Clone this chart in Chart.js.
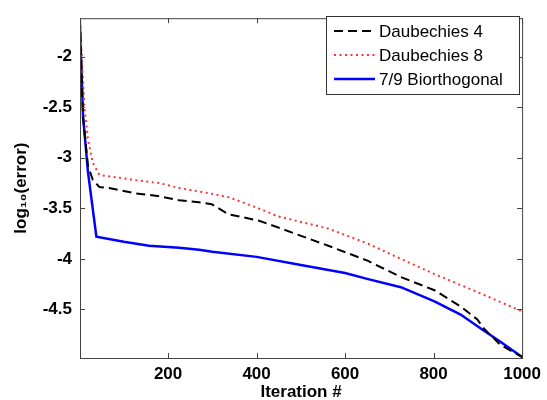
<!DOCTYPE html>
<html>
<head>
<meta charset="utf-8">
<script src="https://cdn.jsdelivr.net/npm/chart.js@4"></script>
<style>
  html, body { margin: 0; padding: 0; background: #fff; }
  #wrap { width: 547px; height: 400px; }
</style>
</head>
<body>
<div id="wrap"><canvas id="chart-error"></canvas></div>
<script>
const seriesLabels = ['Daubechies 4', 'Daubechies 8', '7/9 Biorthogonal']

const iterD4 = [1, 4, 8, 19, 30, 45, 67, 124, 180, 225, 270, 299, 337, 404, 449, 562, 652, 726, 802, 861, 899, 914, 951, 1000]
const errD4 = [-1.62, -2.09, -2.6, -3.08, -3.22, -3.29, -3.30, -3.35, -3.38, -3.42, -3.44, -3.46, -3.56, -3.62, -3.69, -3.87, -4.02, -4.18, -4.31, -4.47, -4.60, -4.69, -4.85, -4.97]

const iterD8 = [1, 2, 11, 19, 30, 45, 124, 180, 225, 292, 337, 404, 449, 562, 652, 726, 802, 900, 1000]
const errD8 = [-1.65, -1.75, -2.5, -2.82, -3.05, -3.17, -3.22, -3.25, -3.30, -3.35, -3.39, -3.50, -3.58, -3.70, -3.85, -4.00, -4.15, -4.33, -4.52]

const iterBior = [1, 4, 8, 19, 38, 100, 157, 225, 270, 300, 400, 500, 600, 652, 726, 802, 861, 914, 951, 1000]
const errBior = [-1.70, -2.09, -2.60, -3.14, -3.78, -3.83, -3.87, -3.89, -3.91, -3.93, -3.98, -4.06, -4.14, -4.20, -4.28, -4.42, -4.55, -4.71, -4.82, -4.97]

const xTicks = [200, 400, 600, 800, 1000]
const yTicks = [-4.5, -4, -3.5, -3, -2.5, -2]

const toPoints = (xs, ys) => xs.map((x, i) => ({ x: x, y: ys[i] }))

const axisColor = '#444'
const fontFamily = '"Liberation Sans", Arial, sans-serif'

// matlab style box with inward ticks on all four sides
const boxPlugin = {
  id: 'box',
  afterDraw(chart) {
    const { ctx, chartArea: a, scales } = chart
    const len = 5
    ctx.save()
    ctx.strokeStyle = axisColor
    ctx.lineWidth = 1
    ctx.strokeRect(a.left + 0.5, a.top + 0.5, a.right - a.left, a.bottom - a.top)
    ctx.beginPath()
    xTicks.forEach(v => {
      const px = Math.round(scales.x.getPixelForValue(v)) + 0.5
      ctx.moveTo(px, a.bottom); ctx.lineTo(px, a.bottom - len)
      ctx.moveTo(px, a.top); ctx.lineTo(px, a.top + len)
    })
    yTicks.forEach(v => {
      const py = Math.round(scales.y.getPixelForValue(v)) + 0.5
      ctx.moveTo(a.left, py); ctx.lineTo(a.left + len, py)
      ctx.moveTo(a.right, py); ctx.lineTo(a.right - len, py)
    })
    ctx.stroke()

    // legend inside the axes, top right
    const lx = 326, ly = 16, lw = 193, lh = 78
    ctx.fillStyle = '#fff'
    ctx.fillRect(lx, ly, lw, lh)
    ctx.strokeStyle = '#333'
    ctx.strokeRect(lx + 0.5, ly + 0.5, lw, lh)
    ctx.font = '17px ' + fontFamily
    ctx.textBaseline = 'middle'
    chart.data.datasets.forEach((ds, i) => {
      const y = ly + 15 + i * 24
      ctx.beginPath()
      ctx.strokeStyle = ds.borderColor
      ctx.lineWidth = ds.borderWidth
      ctx.setLineDash(ds.borderDash || [])
      ctx.moveTo(lx + 8, y); ctx.lineTo(lx + 49, y)
      ctx.stroke()
      ctx.setLineDash([])
      ctx.fillStyle = '#000'
      ctx.fillText(ds.label, lx + 53, y + 1)
    })
    ctx.restore()
  }
}

const ctx = document.getElementById('chart-error').getContext('2d')

const data = {
  datasets: [
    {
      label: seriesLabels[0],
      data: toPoints(iterD4, errD4),
      borderColor: '#000',
      borderWidth: 2,
      borderDash: [9, 5],
      order: 1,
    },
    {
      label: seriesLabels[1],
      data: toPoints(iterD8, errD8),
      borderColor: '#ff3333',
      borderWidth: 2,
      borderDash: [2, 3.5],
      order: 2,
    },
    {
      label: seriesLabels[2],
      data: toPoints(iterBior, errBior),
      borderColor: '#0000ff',
      borderWidth: 2.5,
      order: 3,
    },
  ],
}

const tickFont = { family: fontFamily, size: 17, weight: 'bold' }

const config = {
  type: 'line',
  data: data,
  options: {
    responsive: true,
    maintainAspectRatio: false,
    animation: false,
    elements: { point: { radius: 0 }, line: { tension: 0 } },
    layout: { padding: { left: 11, right: 22, top: 8, bottom: 0 } },
    plugins: {
      legend: { display: false },
      tooltip: { enabled: false },
    },
    scales: {
      x: {
        type: 'linear',
        min: 1,
        max: 1000,
        grid: { display: false, tickLength: 0 },
        border: { display: false },
        afterBuildTicks: s => { s.ticks = xTicks.map(v => ({ value: v })) },
        afterFit: s => { s.height = 42 },
        ticks: {
          padding: 6,
          color: '#000',
          font: tickFont,
          maxRotation: 0,
          callback: v => String(v),
        },
        title: {
          display: true,
          text: 'Iteration #',
          color: '#000',
          font: tickFont,
          padding: { top: 0, bottom: -3 },
        },
      },
      y: {
        min: -4.98,
        max: -1.62,
        grid: { display: false, tickLength: 0 },
        border: { display: false },
        afterBuildTicks: s => { s.ticks = yTicks.map(v => ({ value: v })) },
        afterFit: s => { s.width = 69 },
        ticks: {
          padding: 8,
          color: '#000',
          font: tickFont,
          callback: v => String(v),
        },
        title: {
          display: true,
          text: 'log₁₀(error)',
          color: '#000',
          font: tickFont,
          padding: 0,
        },
      },
    },
  },
  plugins: [boxPlugin],
}

const myChart = new Chart(ctx, config)
</script>
</body>
</html>
